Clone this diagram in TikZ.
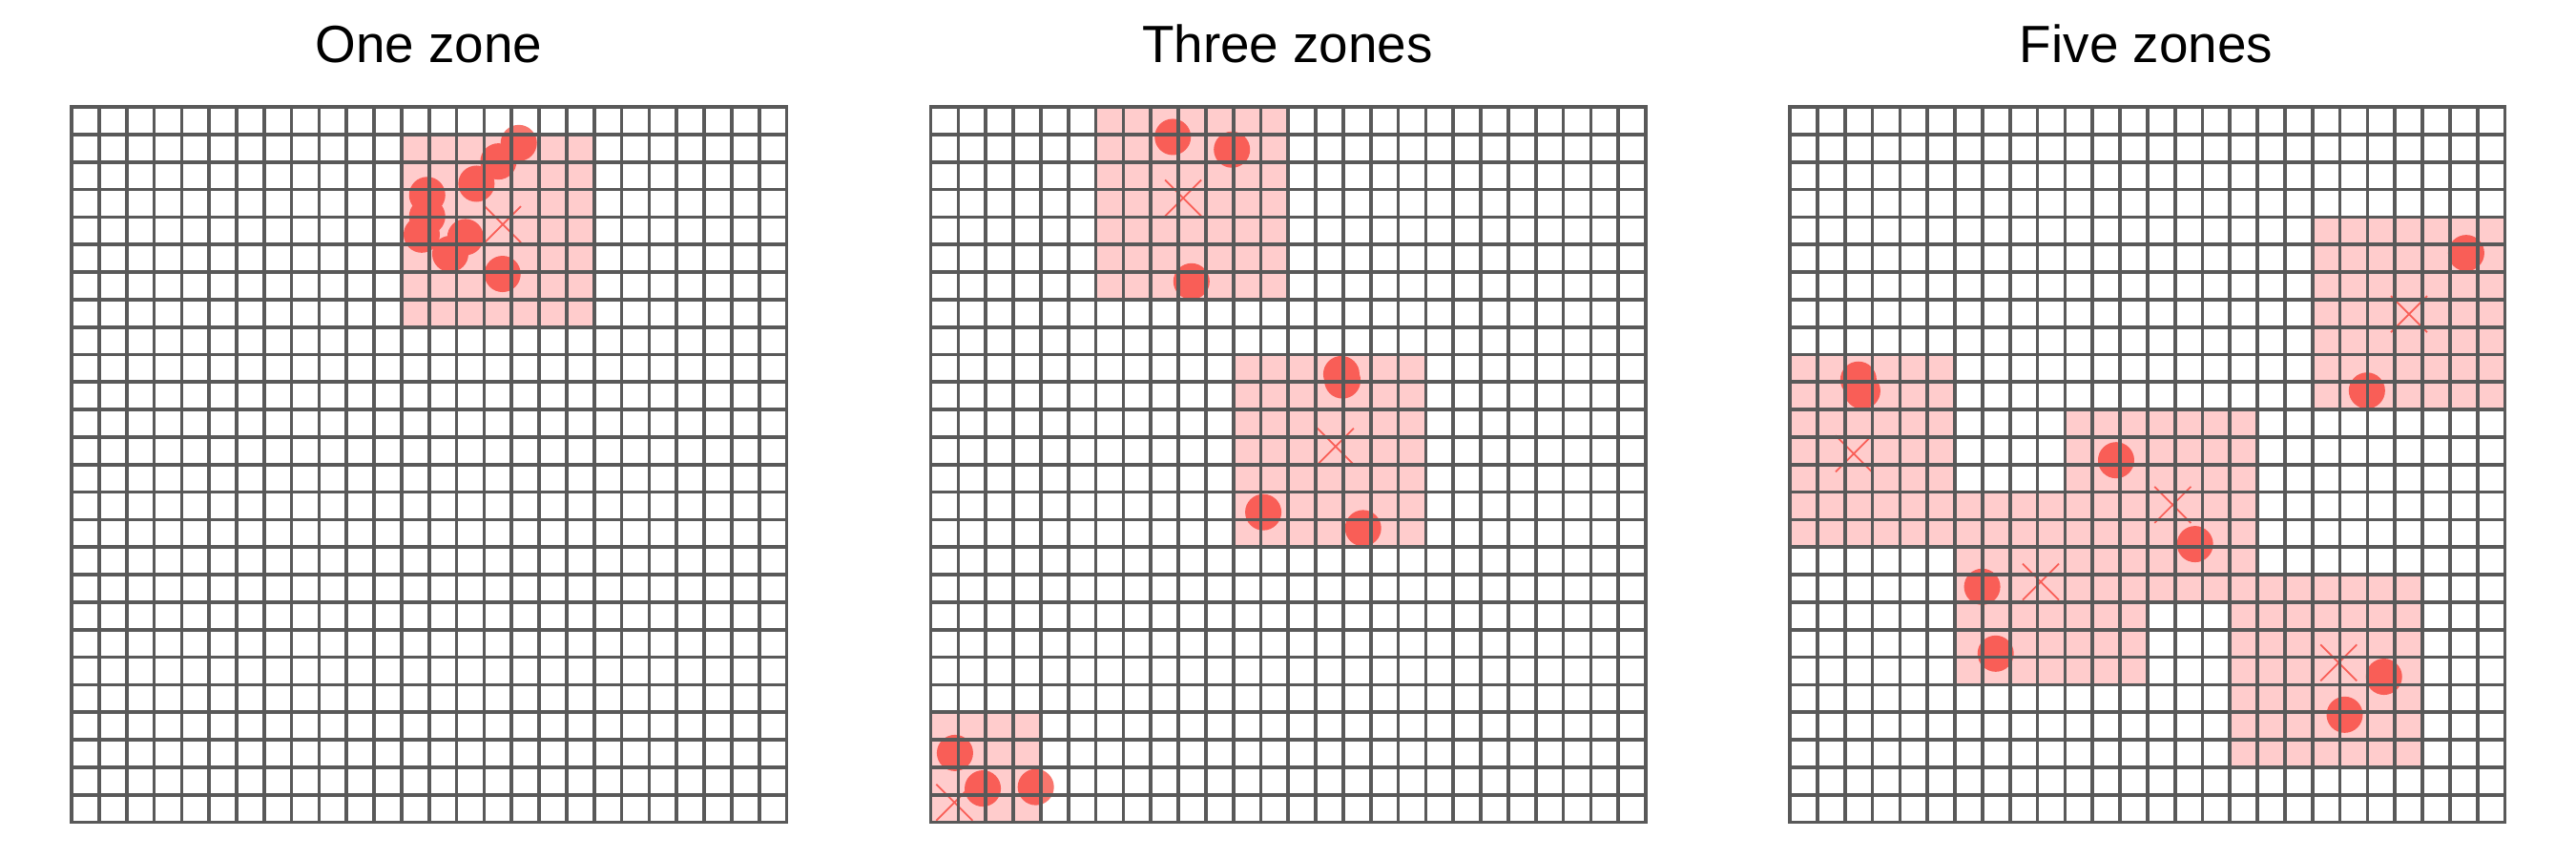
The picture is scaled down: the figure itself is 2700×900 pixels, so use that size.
\documentclass[tikz,border=0pt]{standalone}
\usepackage{fontspec}
\setmainfont{Liberation Sans}
\definecolor{gridc}{RGB}{89,89,89}
\definecolor{dotc}{RGB}{248,118,109}
\tikzset{
  gridline/.style={draw=gridc, line width=1.05pt, line cap=rect},
  zdotst/.style={fill=dotc},
  xmarkst/.style={draw=dotc, line width=0.5pt},
  zonest/.style={fill=red, fill opacity=0.2},
  titlest/.style={font=\fontsize{15.6}{18}\selectfont, anchor=base, inner sep=0pt},
  panelst/.style={yshift=-1.12cm, x=0.28808cm, y=-0.28808cm},
}
\newcommand\mygrid{\foreach \i in {0,...,26}{\draw[gridline] (\i,0) -- (\i,26); \draw[gridline] (0,\i) -- (26,\i);}}
\newcommand\zdot[2]{\fill[zdotst] (#1,#2) circle[radius=1.9mm];}
\newcommand\zx[2]{\draw[xmarkst] (#1,#2) ++(-1.9mm,-1.9mm) -- ++(3.8mm,3.8mm) (#1,#2) ++(-1.9mm,1.9mm) -- ++(3.8mm,-3.8mm);}
\begin{document}
\begin{tikzpicture}[x=0.01cm,y=-0.01cm]
\useasboundingbox (0,0) rectangle (2700,900);
\fill[white] (0,0) rectangle (2700,900);
\node[titlest] (t1) at (449.5,65) {One zone};
\node[titlest] (t2) at (1349.5,65) {Three zones};
\node[titlest] (t3) at (2249.5,65) {Five zones};

% Panel 1
\begin{scope}[xshift=0.75cm, panelst]
  \zdot{16.26}{1.31} \zdot{15.52}{1.98} \zdot{14.72}{2.79} \zdot{12.93}{3.20}
  \zdot{12.93}{3.98} \zdot{12.73}{4.64} \zdot{14.32}{4.73} \zdot{13.77}{5.34}
  \zdot{15.67}{6.07}
  \zx{15.68}{4.27}
  \fill[zonest] (12,1) rectangle (19,8);
  \mygrid
\end{scope}

% Panel 2
\begin{scope}[xshift=9.75cm, panelst]
  \zdot{8.80}{1.09} \zdot{10.95}{1.55} \zdot{9.48}{6.34}
  \zdot{14.93}{9.71} \zdot{14.97}{9.94} \zdot{12.09}{14.73} \zdot{15.72}{15.31}
  \zdot{0.88}{23.48} \zdot{1.89}{24.77} \zdot{3.82}{24.72}
  \zx{9.18}{3.31} \zx{14.72}{12.34} \zx{0.86}{25.28}
  \fill[zonest] (6,0) rectangle (13,7) (11,9) rectangle (18,16) (0,22) rectangle (4,26);
  \mygrid
\end{scope}

% Panel 3
\begin{scope}[xshift=18.75cm, panelst]
  \zdot{24.59}{5.31} \zdot{20.98}{10.31}
  \zdot{2.49}{9.91} \zdot{2.63}{10.32}
  \zdot{11.86}{12.84} \zdot{14.73}{15.89}
  \zdot{6.99}{17.44} \zdot{7.48}{19.87}
  \zdot{21.60}{20.71} \zdot{20.17}{22.09}
  \zx{22.51}{7.53} \zx{2.32}{12.60} \zx{13.92}{14.46} \zx{9.12}{17.26} \zx{19.95}{20.20}
  \fill[zonest] (19,4) rectangle (26,11) (0,9) rectangle (6,16) (10,11) rectangle (17,18)
                (6,14) rectangle (13,21) (16,17) rectangle (23,24);
  \mygrid
\end{scope}
\end{tikzpicture}
\end{document}
